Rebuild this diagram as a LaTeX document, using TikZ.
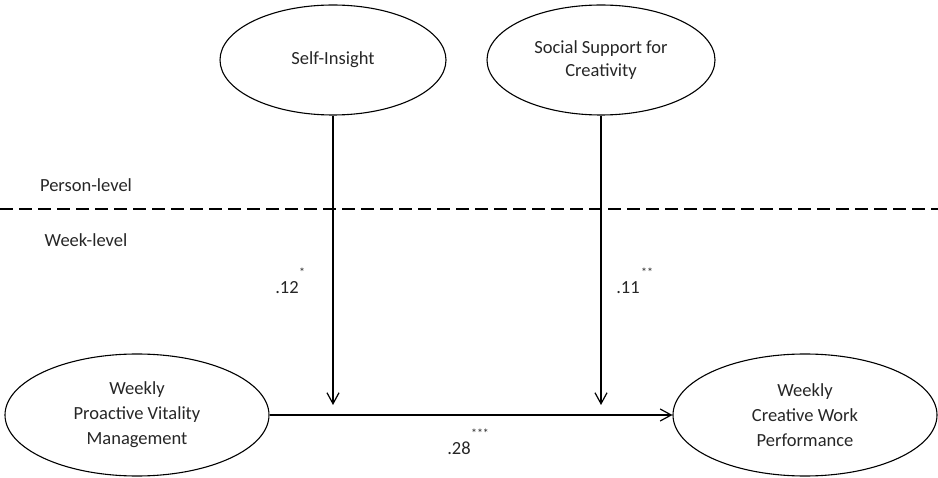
\documentclass[tikz,border=0pt]{standalone}
\usepackage{fontspec}
\setmainfont{Carlito}
\usetikzlibrary{shapes.geometric,arrows.meta}
\begin{document}
\begin{tikzpicture}[x=1pt,y=-1pt,
  lat/.style={draw,ellipse,line width=1.1pt,inner sep=0pt,align=center,font=\fontsize{18.5}{25}\selectfont,text=black!85},
  lbl/.style={font=\fontsize{18.5}{20}\selectfont,text=black!85,inner sep=0pt},
  sig/.style={font=\fontsize{12}{12}\selectfont,text=black!85,inner sep=0pt},
  arr/.style={line width=1.2pt,-{Straight Barb[length=11pt,width=12pt,line width=1.2pt]}}]
\useasboundingbox (0,0) rectangle (938,478);
\node[lat,minimum width=226pt,minimum height=110pt] (si) at (333,60) {Self-Insight};
\node[lat,minimum width=228pt,minimum height=110pt,font=\fontsize{18.5}{23}\selectfont] (ss) at (601,60) {Social Support for\\Creativity};
\node[lat,minimum width=264pt,minimum height=122pt] (pv) at (137,415) {Weekly\\Proactive Vitality\\Management};
\node[lat,minimum width=264pt,minimum height=122pt] (cw) at (805,415) {Weekly\\Creative Work\\Performance};
\coordinate (dl) at (0,209);
\coordinate (dr) at (938,209);
\draw[line width=1.1pt,dash pattern=on 13pt off 6pt] (dl) -- (dr);
\node[lbl] (pl) at (86,185) {Person-level};
\node[lbl] (wl) at (86,240) {Week-level};
\coordinate (t1) at (333,405);
\coordinate (t2) at (601,405);
\draw[arr] (si.south) -- (t1);
\draw[arr] (ss.south) -- (t2);
\draw[arr] (pv.east) -- (cw.west);
\node[lbl] (b1) at (287,288) {.12};
\node[sig] (s1) at (302,272) {*};
\node[lbl] (b2) at (628,288) {.11};
\node[sig] (s2) at (647,272) {**};
\node[lbl] (b3) at (459,448) {.28};
\node[sig] (s3) at (480,433) {***};
\end{tikzpicture}
\end{document}
